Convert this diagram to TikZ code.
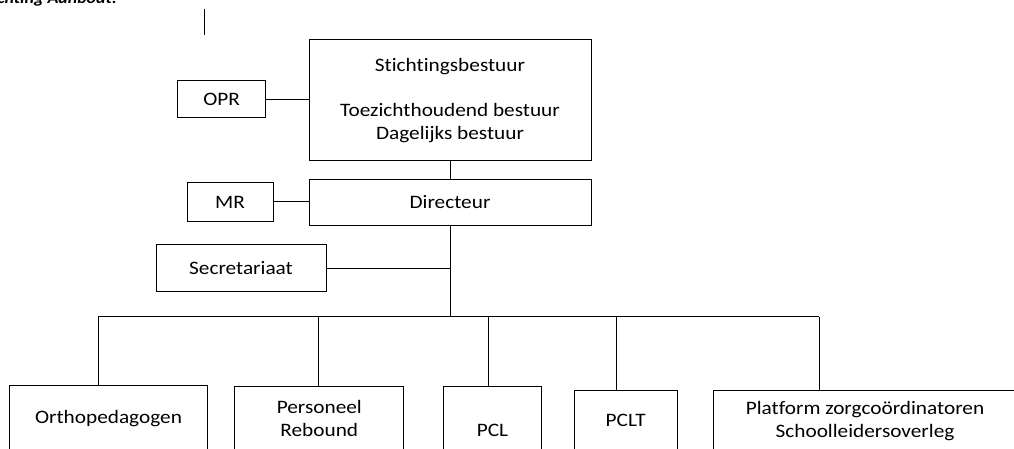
\documentclass[tikz,border=0pt]{standalone}
\usepackage{fontspec}
\setmainfont[FakeStretch=1.12,Ligatures=NoCommon]{Carlito}
\tikzset{
  orgbox/.style={draw,line width=1pt,inner sep=0pt,align=center,font=\fontsize{19}{23}\selectfont},
  orgline/.style={line width=1pt}
}
\begin{document}
\begin{tikzpicture}[x=1pt,y=-1pt]
\useasboundingbox (0,0) rectangle (1014,449);
\clip (0,0) rectangle (1014,449);
% cut-off heading and stray mark
\node[anchor=base east,inner sep=0pt,font=\fontsize{16}{18}\selectfont\bfseries\itshape] (title) at (117,4) {Stichting Aanbodt:};
\draw[orgline] (204,9) -- (204,35);
% top
\node[orgbox,minimum width=282pt,minimum height=121pt] (stb) at (450,100.5) {Stichtingsbestuur\\[22pt]Toezichthoudend bestuur\\Dagelijks bestuur};
\node[orgbox,minimum width=88pt,minimum height=37pt] (opr) at (221.7,99.5) {OPR};
\node[orgbox,minimum width=282pt,minimum height=45pt] (dir) at (450,202.5) {Directeur};
\node[orgbox,minimum width=86pt,minimum height=39pt] (mr) at (230,202) {MR};
\node[orgbox,minimum width=170pt,minimum height=47pt] (sec) at (241,268.3) {Secretariaat};
% bottom row (cut off by the clip)
\node[orgbox,minimum width=198.4pt,minimum height=68pt] (orth) at (108.5,419) {Orthopedagogen};
\node[orgbox,minimum width=168.7pt,minimum height=63.6pt] (pers) at (319.3,418.5) {Personeel\\Rebound};
\node[orgbox,minimum width=98.4pt,minimum height=86.6pt] (pcl) at (492.5,430) {PCL};
\node[orgbox,minimum width=103.3pt,minimum height=60pt] (pclt) at (625.7,420) {PCLT};
\node[orgbox,minimum width=303.4pt,minimum height=62pt] (plat) at (865,421) {Platform zorgcoördinatoren\\Schoolleidersoverleg};
% connectors
\draw[orgline] (opr.east) -- (opr.east -| stb.west);
\draw[orgline] (mr.east) -- (mr.east -| dir.west);
\draw[orgline] (stb.south) -- (dir.north);
\coordinate (bus) at (450,316.7);
\draw[orgline] (dir.south) -- (bus);
\draw[orgline] (sec.east) -- (sec.east -| bus);
\coordinate (busL) at (98,316.7);
\coordinate (busR) at (819,316.7);
\draw[orgline] (busL) -- (busR);
\foreach \x/\n in {98/orth,318/pers,488/pcl,616/pclt,819/plat}{
	\coordinate (d\n) at (\x,316.7);
	\draw[orgline] (d\n) -- (d\n |- \n.north);
}
\end{tikzpicture}
\end{document}
